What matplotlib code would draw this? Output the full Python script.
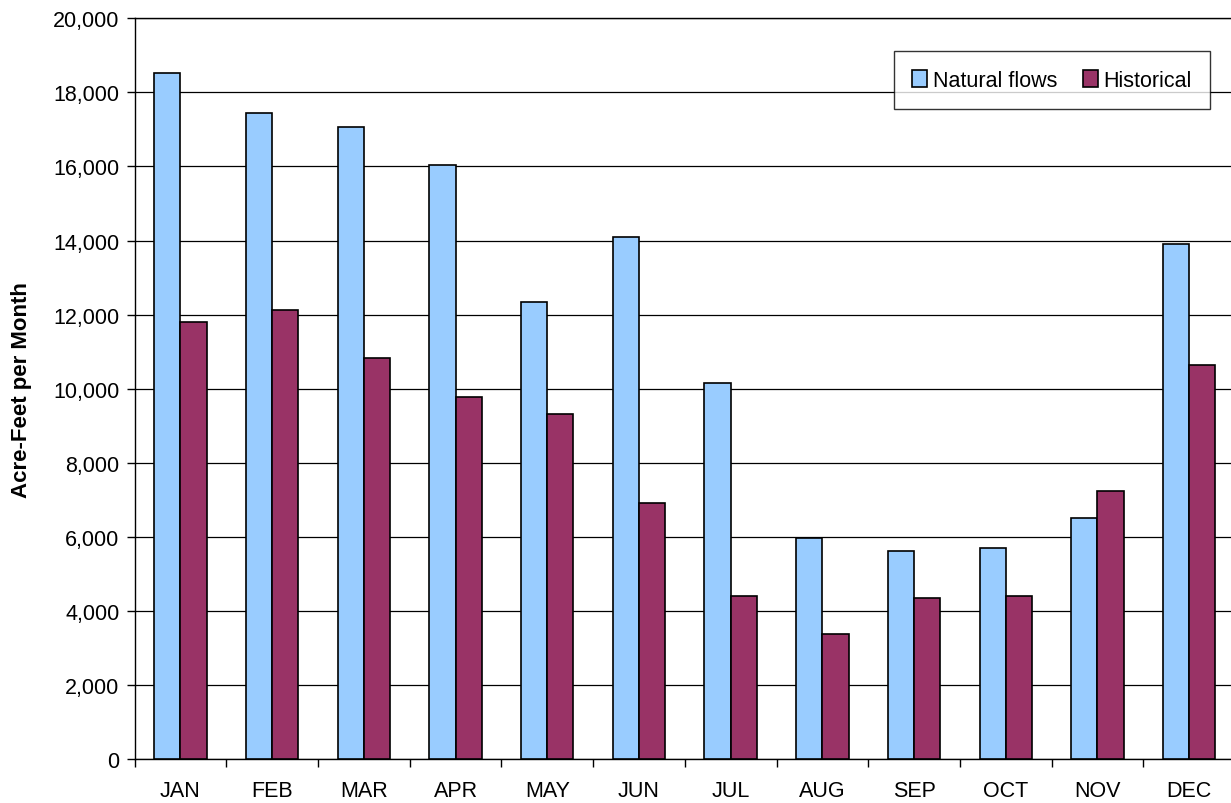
import matplotlib.pyplot as plt
import numpy as np
from matplotlib.ticker import FuncFormatter

plt.rcParams['font.family'] = ['Liberation Sans', 'DejaVu Sans']

meses = ["JAN", "FEB", "MAR", "APR", "MAY", "JUN",
         "JUL", "AUG", "SEP", "OCT", "NOV", "DEC"]
natural = [18520, 17440, 17060, 16040, 12330, 14090,
           10160, 5965, 5630, 5710, 6505, 13920]
historico = [11800, 12120, 10840, 9780, 9320, 6925,
             4400, 3390, 4345, 4415, 7240, 10650]

fig = plt.figure(figsize=(12.31, 8.04), dpi=100)
ax = fig.add_axes([0.1093, 0.0544, 0.894, 0.9216])

x = np.arange(len(meses))
largura = 1 / 3.5

ax.bar(x - largura / 2, natural, largura, color="#99CCFF", edgecolor="black",
       linewidth=1.2, label="Natural flows", zorder=3)
ax.bar(x + largura / 2, historico, largura, color="#993366", edgecolor="black",
       linewidth=1.2, label="Historical", zorder=3)

ax.set_xlim(-0.5, len(meses) - 0.5)
ax.set_ylim(0, 20000)
ax.set_yticks(np.arange(0, 20001, 2000))
ax.yaxis.set_major_formatter(FuncFormatter(lambda v, p: f"{int(v):,}"))
ax.yaxis.grid(True, color="black", linewidth=0.9, zorder=0)

# ticks entre as categorias, rótulos no centro
ax.set_xticks(np.arange(-0.5, len(meses), 1))
ax.set_xticklabels([])
ax.set_xticks(x, minor=True)
ax.set_xticklabels(meses, minor=True, fontsize=15.5)
ax.tick_params(axis="x", which="minor", length=0, pad=15)
ax.tick_params(axis="x", which="major", length=6, width=1, direction="out")
ax.tick_params(axis="y", length=6, width=1, direction="out", labelsize=15.5, pad=5)

ax.spines["right"].set_visible(False)
for lado in ["left", "top", "bottom"]:
    ax.spines[lado].set_color("black")
    ax.spines[lado].set_linewidth(1)

ax.set_ylabel("Acre-Feet per Month", fontsize=16, fontweight="bold", labelpad=15)

leg = ax.legend(loc="upper right", bbox_to_anchor=(0.9773, 0.9555), ncol=2,
                fontsize=15.5, frameon=True, fancybox=False, handlelength=0.7,
                handleheight=0.9, handletextpad=0.25, columnspacing=1.2,
                borderpad=0.85, borderaxespad=0)
leg.get_frame().set_edgecolor("black")
leg.get_frame().set_linewidth(1)

fig.savefig("out.png", dpi=100)
